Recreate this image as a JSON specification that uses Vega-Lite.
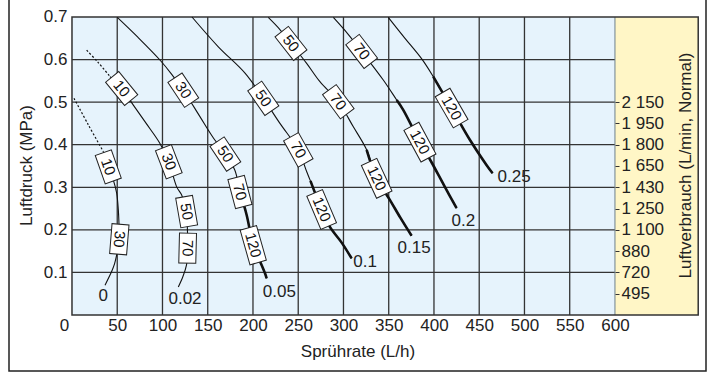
{
  "$schema": "https://vega.github.io/schema/vega-lite/v6.json",
  "width": 697,
  "height": 372,
  "autosize": {"type": "none"},
  "padding": {"left": 9, "top": -1, "right": 9, "bottom": 1},
  "background": "white",
  "config": {
    "view": {"stroke": "#222", "strokeWidth": 1.5, "fill": "white"},
    "font": "Liberation Sans",
    "axis": {"labelFont": "Liberation Sans", "titleFont": "Liberation Sans", "labelColor": "#222", "titleColor": "#222", "titleFontWeight": "normal", "labelFontSize": 17, "titleFontSize": 17, "grid": false, "domain": false}
  },
  "datasets": {
    "curves": [
      {"c": "0", "x": 2.2, "y": 0.509, "p": "ext"},
      {"c": "0", "x": 18, "y": 0.447, "p": "ext"},
      {"c": "0", "x": 34.6, "y": 0.384, "p": "ext"},
      {"c": "0", "x": 34.6, "y": 0.384, "p": "main"},
      {"c": "0", "x": 40.1, "y": 0.348, "p": "main", "lab": "10"},
      {"c": "0", "x": 45.7, "y": 0.317, "p": "main"},
      {"c": "0", "x": 49.4, "y": 0.286, "p": "main"},
      {"c": "0", "x": 51.2, "y": 0.247, "p": "main"},
      {"c": "0", "x": 52, "y": 0.21, "p": "main"},
      {"c": "0", "x": 52.3, "y": 0.178, "p": "main", "lab": "30"},
      {"c": "0", "x": 49.4, "y": 0.141, "p": "main"},
      {"c": "0", "x": 47, "y": 0.12, "p": "main"},
      {"c": "0", "x": 43.8, "y": 0.102, "p": "main"},
      {"c": "0", "x": 36.5, "y": 0.07, "p": "main"},

      {"c": "0.02", "x": 16.2, "y": 0.622, "p": "ext"},
      {"c": "0.02", "x": 29, "y": 0.593, "p": "ext"},
      {"c": "0.02", "x": 42, "y": 0.56, "p": "ext"},
      {"c": "0.02", "x": 42, "y": 0.56, "p": "main"},
      {"c": "0.02", "x": 54.9, "y": 0.532, "p": "main", "lab": "10"},
      {"c": "0.02", "x": 67.8, "y": 0.493, "p": "main"},
      {"c": "0.02", "x": 82, "y": 0.45, "p": "main"},
      {"c": "0.02", "x": 97.2, "y": 0.403, "p": "main"},
      {"c": "0.02", "x": 107, "y": 0.36, "p": "main", "lab": "30"},
      {"c": "0.02", "x": 115.7, "y": 0.301, "p": "main"},
      {"c": "0.02", "x": 121.2, "y": 0.282, "p": "main"},
      {"c": "0.02", "x": 126.7, "y": 0.243, "p": "main", "lab": "50"},
      {"c": "0.02", "x": 127.5, "y": 0.205, "p": "main"},
      {"c": "0.02", "x": 127.8, "y": 0.157, "p": "main", "lab": "70"},
      {"c": "0.02", "x": 126.5, "y": 0.117, "p": "main"},
      {"c": "0.02", "x": 122.5, "y": 0.09, "p": "main"},
      {"c": "0.02", "x": 117.5, "y": 0.066, "p": "main"},

      {"c": "0.05", "x": 50.1, "y": 0.699, "p": "main"},
      {"c": "0.05", "x": 73, "y": 0.652, "p": "main"},
      {"c": "0.05", "x": 97.2, "y": 0.599, "p": "main"},
      {"c": "0.05", "x": 110, "y": 0.566, "p": "main"},
      {"c": "0.05", "x": 123, "y": 0.528, "p": "main", "lab": "30"},
      {"c": "0.05", "x": 141.4, "y": 0.466, "p": "main"},
      {"c": "0.05", "x": 155, "y": 0.42, "p": "main"},
      {"c": "0.05", "x": 169.5, "y": 0.378, "p": "main", "lab": "50"},
      {"c": "0.05", "x": 180, "y": 0.34, "p": "main"},
      {"c": "0.05", "x": 185.6, "y": 0.289, "p": "main", "lab": "70", "rec": 1},
      {"c": "0.05", "x": 193, "y": 0.235, "p": "main", "rec": 1},
      {"c": "0.05", "x": 200.3, "y": 0.164, "p": "main", "lab": "120", "rec": 1},
      {"c": "0.05", "x": 207, "y": 0.13, "p": "main", "rec": 1},
      {"c": "0.05", "x": 213.3, "y": 0.098, "p": "main", "rec": 1},
      {"c": "0.05", "x": 215.1, "y": 0.086, "p": "main", "rec": 1},

      {"c": "0.1", "x": 132.6, "y": 0.7, "p": "main"},
      {"c": "0.1", "x": 161.7, "y": 0.63, "p": "main"},
      {"c": "0.1", "x": 191.2, "y": 0.568, "p": "main"},
      {"c": "0.1", "x": 211.4, "y": 0.509, "p": "main", "lab": "50"},
      {"c": "0.1", "x": 229.8, "y": 0.45, "p": "main"},
      {"c": "0.1", "x": 250.1, "y": 0.388, "p": "main", "lab": "70"},
      {"c": "0.1", "x": 259.3, "y": 0.337, "p": "main"},
      {"c": "0.1", "x": 263.5, "y": 0.315, "p": "main", "rec": 1},
      {"c": "0.1", "x": 275.9, "y": 0.248, "p": "main", "lab": "120", "rec": 1},
      {"c": "0.1", "x": 285, "y": 0.207, "p": "main", "rec": 1},
      {"c": "0.1", "x": 298, "y": 0.17, "p": "main", "rec": 1},
      {"c": "0.1", "x": 309, "y": 0.133, "p": "main", "rec": 1},

      {"c": "0.15", "x": 216.9, "y": 0.699, "p": "main"},
      {"c": "0.15", "x": 230, "y": 0.67, "p": "main"},
      {"c": "0.15", "x": 242, "y": 0.638, "p": "main", "lab": "50"},
      {"c": "0.15", "x": 259.3, "y": 0.591, "p": "main"},
      {"c": "0.15", "x": 274, "y": 0.548, "p": "main"},
      {"c": "0.15", "x": 294.3, "y": 0.501, "p": "main", "lab": "70"},
      {"c": "0.15", "x": 310.9, "y": 0.442, "p": "main"},
      {"c": "0.15", "x": 325.6, "y": 0.388, "p": "main", "rec": 1},
      {"c": "0.15", "x": 336.7, "y": 0.321, "p": "main", "lab": "120", "rec": 1},
      {"c": "0.15", "x": 351.4, "y": 0.27, "p": "main", "rec": 1},
      {"c": "0.15", "x": 363, "y": 0.228, "p": "main", "rec": 1},
      {"c": "0.15", "x": 375.3, "y": 0.186, "p": "main", "rec": 1},

      {"c": "0.2", "x": 288.8, "y": 0.699, "p": "main"},
      {"c": "0.2", "x": 305, "y": 0.66, "p": "main"},
      {"c": "0.2", "x": 320.1, "y": 0.619, "p": "main", "lab": "70"},
      {"c": "0.2", "x": 344, "y": 0.552, "p": "main"},
      {"c": "0.2", "x": 358.8, "y": 0.505, "p": "main", "rec": 1},
      {"c": "0.2", "x": 366, "y": 0.482, "p": "main", "rec": 1},
      {"c": "0.2", "x": 384.5, "y": 0.406, "p": "main", "lab": "120", "rec": 1},
      {"c": "0.2", "x": 397, "y": 0.36, "p": "main", "rec": 1},
      {"c": "0.2", "x": 411, "y": 0.305, "p": "main", "rec": 1},
      {"c": "0.2", "x": 425, "y": 0.251, "p": "main", "rec": 1},

      {"c": "0.25", "x": 349.5, "y": 0.699, "p": "main"},
      {"c": "0.25", "x": 368, "y": 0.65, "p": "main"},
      {"c": "0.25", "x": 386.7, "y": 0.601, "p": "main"},
      {"c": "0.25", "x": 399.2, "y": 0.56, "p": "main", "rec": 1},
      {"c": "0.25", "x": 419.5, "y": 0.486, "p": "main", "lab": "120", "rec": 1},
      {"c": "0.25", "x": 439.8, "y": 0.411, "p": "main", "rec": 1},
      {"c": "0.25", "x": 458.2, "y": 0.352, "p": "main", "rec": 1},
      {"c": "0.25", "x": 464.8, "y": 0.333, "p": "main", "rec": 1}
    ],
    "names": [
      {"c": "0", "x": 34.6, "y": 0.045},
      {"c": "0.02", "x": 124.9, "y": 0.037},
      {"c": "0.05", "x": 229.1, "y": 0.055},
      {"c": "0.1", "x": 323.8, "y": 0.125},
      {"c": "0.15", "x": 378, "y": 0.157},
      {"c": "0.2", "x": 432.4, "y": 0.221},
      {"c": "0.25", "x": 488.6, "y": 0.323}
    ]
  },
  "resolve": {"scale": {"y": "independent"}, "axis": {"y": "independent"}},
  "layer": [
    {
      "data": {"values": [{}]},
      "mark": {"type": "rect", "fill": "#e6f3fc"},
      "encoding": {
        "x": {"datum": 0, "type": "quantitative",
          "scale": {"domain": [-69.6, 700.6], "nice": false, "zero": false},
          "axis": {"orient": "bottom", "offset": -56, "values": [0, 50, 100, 150, 200, 250, 300, 350, 400, 450, 500, 550, 600], "format": "d", "ticks": false, "tickSize": 0, "labelPadding": 2,
            "labelOffset": {"condition": {"test": "datum.value == 0", "value": -8}, "value": 0},
            "title": "Sprührate (L/h)", "titleY": 36, "titleBaseline": "middle", "zindex": 1}},
        "x2": {"datum": 600},
        "y": {"datum": 0, "type": "quantitative",
          "scale": {"domain": [-0.13155, 0.74228], "nice": false, "zero": false},
          "axis": {"orient": "left", "offset": -63, "values": [0.1, 0.2, 0.3, 0.4, 0.5, 0.6, 0.7], "format": ".1f", "ticks": false, "tickSize": 0, "labelPadding": 5,
            "title": "Luftdruck (MPa)", "titleX": -46, "titleY": 166, "titleAngle": 270, "titleAlign": "center", "titleBaseline": "middle", "zindex": 1}},
        "y2": {"datum": 0.7}
      }
    },
    {
      "data": {"values": [{}]},
      "mark": {"type": "rect", "fill": "#fff6c6"},
      "encoding": {
        "x": {"datum": 600, "type": "quantitative", "scale": {"domain": [-69.6, 700.6], "nice": false, "zero": false}},
        "x2": {"datum": 692},
        "y": {"datum": 0, "type": "quantitative", "scale": {"domain": [-0.13155, 0.74228], "nice": false, "zero": false}, "axis": null},
        "y2": {"datum": 0.7}
      }
    },
    {
      "data": {"values": [{"g": 50}, {"g": 100}, {"g": 150}, {"g": 200}, {"g": 250}, {"g": 300}, {"g": 350}, {"g": 400}, {"g": 450}, {"g": 500}, {"g": 550}]},
      "mark": {"type": "rule", "stroke": "#333", "strokeWidth": 1.3},
      "encoding": {
        "x": {"field": "g", "type": "quantitative", "scale": {"domain": [-69.6, 700.6], "nice": false, "zero": false}},
        "y": {"datum": 0, "type": "quantitative", "scale": {"domain": [-0.13155, 0.74228], "nice": false, "zero": false}, "axis": null},
        "y2": {"datum": 0.7}
      }
    },
    {
      "data": {"values": [{"h": 0.1}, {"h": 0.2}, {"h": 0.3}, {"h": 0.4}, {"h": 0.5}, {"h": 0.6}]},
      "mark": {"type": "rule", "stroke": "#333", "strokeWidth": 1.3},
      "encoding": {
        "y": {"field": "h", "type": "quantitative", "scale": {"domain": [-0.13155, 0.74228], "nice": false, "zero": false}, "axis": null},
        "x": {"datum": 0, "type": "quantitative", "scale": {"domain": [-69.6, 700.6], "nice": false, "zero": false}},
        "x2": {"datum": 600}
      }
    },
    {
      "data": {"values": [{}]},
      "mark": {"type": "rule", "stroke": "#6d7f8c", "strokeWidth": 1},
      "encoding": {
        "x": {"datum": 600, "type": "quantitative", "scale": {"domain": [-69.6, 700.6], "nice": false, "zero": false}},
        "y": {"datum": 0, "type": "quantitative", "scale": {"domain": [-0.13155, 0.74228], "nice": false, "zero": false}, "axis": null},
        "y2": {"datum": 0.7}
      }
    },
    {
      "data": {"values": [{}]},
      "mark": {"type": "rect", "filled": false, "stroke": "#333", "strokeWidth": 1.5},
      "encoding": {
        "x": {"datum": 0, "type": "quantitative", "scale": {"domain": [-69.6, 700.6], "nice": false, "zero": false}},
        "x2": {"datum": 692},
        "y": {"datum": 0, "type": "quantitative", "scale": {"domain": [-0.13155, 0.74228], "nice": false, "zero": false},
          "axis": {"orient": "right", "offset": -91, "values": [0.05, 0.1, 0.15, 0.2, 0.25, 0.3, 0.35, 0.4, 0.45, 0.5],
            "labelExpr": "['495','720','880','1 100','1 250','1 430','1 650','1 800','1 950','2 150'][round(datum.value*20)-1]",
            "ticks": true, "tickSize": 4, "tickColor": "#333", "tickWidth": 1, "labelPadding": 2, "labelAlign": "left",
            "title": "Luftverbrauch (L/min, Normal)", "titleAngle": 270, "titleX": 70.5, "titleY": 166, "titleAlign": "center", "titleBaseline": "middle", "zindex": 2}},
        "y2": {"datum": 0.7}
      }
    },
    {
      "data": {"name": "curves"},
      "transform": [{"filter": "datum.p == 'ext'"}],
      "mark": {"type": "line", "stroke": "#111", "strokeWidth": 1.2, "strokeDash": [2, 2], "interpolate": "catmull-rom"},
      "encoding": {
        "x": {"field": "x", "type": "quantitative", "scale": {"domain": [-69.6, 700.6], "nice": false, "zero": false}},
        "y": {"field": "y", "type": "quantitative", "scale": {"domain": [-0.13155, 0.74228], "nice": false, "zero": false}, "axis": null},
        "detail": {"field": "c"},
        "order": {"field": "y", "type": "quantitative", "sort": "descending"}
      }
    },
    {
      "data": {"name": "curves"},
      "transform": [{"filter": "datum.p == 'main'"}],
      "mark": {"type": "line", "stroke": "#111", "strokeWidth": 1.1, "interpolate": "catmull-rom"},
      "encoding": {
        "x": {"field": "x", "type": "quantitative", "scale": {"domain": [-69.6, 700.6], "nice": false, "zero": false}},
        "y": {"field": "y", "type": "quantitative", "scale": {"domain": [-0.13155, 0.74228], "nice": false, "zero": false}, "axis": null},
        "detail": {"field": "c"},
        "order": {"field": "y", "type": "quantitative", "sort": "descending"}
      }
    },
    {
      "data": {"name": "curves"},
      "transform": [{"filter": "datum.rec == 1"}],
      "mark": {"type": "line", "stroke": "#111", "strokeWidth": 2.6, "interpolate": "catmull-rom"},
      "encoding": {
        "x": {"field": "x", "type": "quantitative", "scale": {"domain": [-69.6, 700.6], "nice": false, "zero": false}},
        "y": {"field": "y", "type": "quantitative", "scale": {"domain": [-0.13155, 0.74228], "nice": false, "zero": false}, "axis": null},
        "detail": {"field": "c"},
        "order": {"field": "y", "type": "quantitative", "sort": "descending"}
      }
    },
    {
      "data": {"name": "curves"},
      "transform": [
        {"window": [{"op": "lag", "field": "x", "as": "lx"}, {"op": "lag", "field": "y", "as": "ly"}, {"op": "lead", "field": "x", "as": "nx"}, {"op": "lead", "field": "y", "as": "ny"}], "groupby": ["c"], "sort": [{"field": "y", "order": "descending"}]},
        {"filter": "isValid(datum.lab) && length(datum.lab) == 2"},
        {"calculate": "atan2((datum.ly - datum.ny) * 425.7, (datum.nx - datum.lx) * 0.905) * 180 / PI", "as": "ang"}
      ],
      "mark": {"type": "point", "shape": "M-1,-0.567H1V0.567H-1Z", "size": 900, "filled": true, "fill": "white", "stroke": "#222", "strokeWidth": 1, "opacity": 1},
      "encoding": {
        "x": {"field": "x", "type": "quantitative", "scale": {"domain": [-69.6, 700.6], "nice": false, "zero": false}},
        "y": {"field": "y", "type": "quantitative", "scale": {"domain": [-0.13155, 0.74228], "nice": false, "zero": false}, "axis": null},
        "angle": {"field": "ang", "type": "quantitative", "scale": null}
      }
    },
    {
      "data": {"name": "curves"},
      "transform": [
        {"window": [{"op": "lag", "field": "x", "as": "lx"}, {"op": "lag", "field": "y", "as": "ly"}, {"op": "lead", "field": "x", "as": "nx"}, {"op": "lead", "field": "y", "as": "ny"}], "groupby": ["c"], "sort": [{"field": "y", "order": "descending"}]},
        {"filter": "isValid(datum.lab) && length(datum.lab) == 3"},
        {"calculate": "atan2((datum.ly - datum.ny) * 425.7, (datum.nx - datum.lx) * 0.905) * 180 / PI", "as": "ang"}
      ],
      "mark": {"type": "point", "shape": "M-1,-0.472H1V0.472H-1Z", "size": 1296, "filled": true, "fill": "white", "stroke": "#222", "strokeWidth": 1, "opacity": 1},
      "encoding": {
        "x": {"field": "x", "type": "quantitative", "scale": {"domain": [-69.6, 700.6], "nice": false, "zero": false}},
        "y": {"field": "y", "type": "quantitative", "scale": {"domain": [-0.13155, 0.74228], "nice": false, "zero": false}, "axis": null},
        "angle": {"field": "ang", "type": "quantitative", "scale": null}
      }
    },
    {
      "data": {"name": "curves"},
      "transform": [
        {"window": [{"op": "lag", "field": "x", "as": "lx"}, {"op": "lag", "field": "y", "as": "ly"}, {"op": "lead", "field": "x", "as": "nx"}, {"op": "lead", "field": "y", "as": "ny"}], "groupby": ["c"], "sort": [{"field": "y", "order": "descending"}]},
        {"filter": "isValid(datum.lab)"},
        {"calculate": "atan2((datum.ly - datum.ny) * 425.7, (datum.nx - datum.lx) * 0.905) * 180 / PI", "as": "ang"}
      ],
      "mark": {"type": "text", "font": "Liberation Sans", "fontSize": 15, "color": "#111", "align": "center", "baseline": "middle"},
      "encoding": {
        "x": {"field": "x", "type": "quantitative", "scale": {"domain": [-69.6, 700.6], "nice": false, "zero": false}},
        "y": {"field": "y", "type": "quantitative", "scale": {"domain": [-0.13155, 0.74228], "nice": false, "zero": false}, "axis": null},
        "angle": {"field": "ang", "type": "quantitative", "scale": null},
        "text": {"field": "lab"}
      }
    },
    {
      "data": {"name": "names"},
      "mark": {"type": "text", "font": "Liberation Sans", "fontSize": 17, "color": "#222", "align": "center", "baseline": "middle"},
      "encoding": {
        "x": {"field": "x", "type": "quantitative", "scale": {"domain": [-69.6, 700.6], "nice": false, "zero": false}},
        "y": {"field": "y", "type": "quantitative", "scale": {"domain": [-0.13155, 0.74228], "nice": false, "zero": false}, "axis": null},
        "text": {"field": "c"}
      }
    }
  ]
}
